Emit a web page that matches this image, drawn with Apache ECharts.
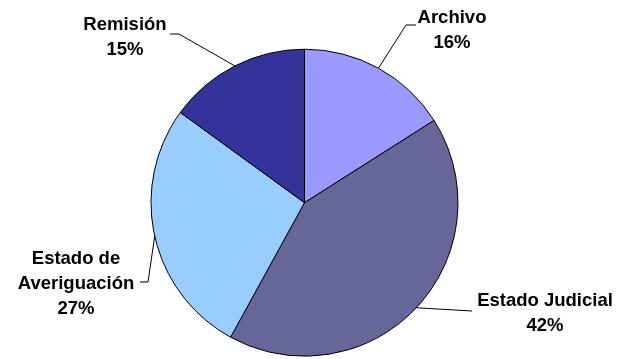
<!DOCTYPE html>
<html>
<head>
<meta charset="utf-8">
<script src="https://cdn.jsdelivr.net/npm/echarts@6/dist/echarts.min.js"></script>
<style>
html,body{margin:0;padding:0;background:#fff;}
#chart{width:619px;height:359px;}
</style>
</head>
<body>
<div id="chart"></div>
<script>
const categories = ['Archivo', 'Estado Judicial', 'Estado de\nAveriguación', 'Remisión'];
const values = [16, 42, 27, 15];
const colors = ['#9999FF', '#666699', '#99CCFF', '#333399'];

// label placement (style): text center and elbow points of the leader lines
const labelPlacement = [
  { x: 452, y: 30, elbow: [[406, 25], [416, 25]] },
  { x: 545, y: 313, elbow: [[472, 311]] },
  { x: 76, y: 284, elbow: [[148, 282], [140, 282]] },
  { x: 125, y: 37.5, elbow: [[179, 34], [170, 34]] }
];

const chart = echarts.init(document.getElementById('chart'));
chart.setOption({
  animation: false,
  series: [{
    type: 'pie',
    center: [304.5, 202.7],
    radius: [0, 153.5],
    startAngle: 90,
    clockwise: true,
    data: categories.map((c, i) => ({
      name: c,
      value: values[i],
      itemStyle: { color: colors[i] }
    })),
    itemStyle: { borderColor: '#000', borderWidth: 1 },
    label: {
      show: true,
      formatter: '{b}\n{d}%',
      fontFamily: 'Liberation Sans, Arial, sans-serif',
      fontWeight: 'bold',
      fontSize: 18.5,
      lineHeight: 25,
      color: '#000',
      align: 'center',
      overflow: 'none'
    },
    labelLine: {
      show: true,
      length: 20,
      length2: 10,
      lineStyle: { color: '#000', width: 1 }
    },
    labelLayout: function (params) {
      const p = labelPlacement[params.dataIndex];
      const start = params.labelLinePoints ? params.labelLinePoints[0] : null;
      const res = { x: p.x, y: p.y, align: 'center', verticalAlign: 'middle', width: 200 };
      if (start) res.labelLinePoints = [start].concat(p.elbow);
      return res;
    },
    emphasis: { disabled: true }
  }]
});
</script>
</body>
</html>
